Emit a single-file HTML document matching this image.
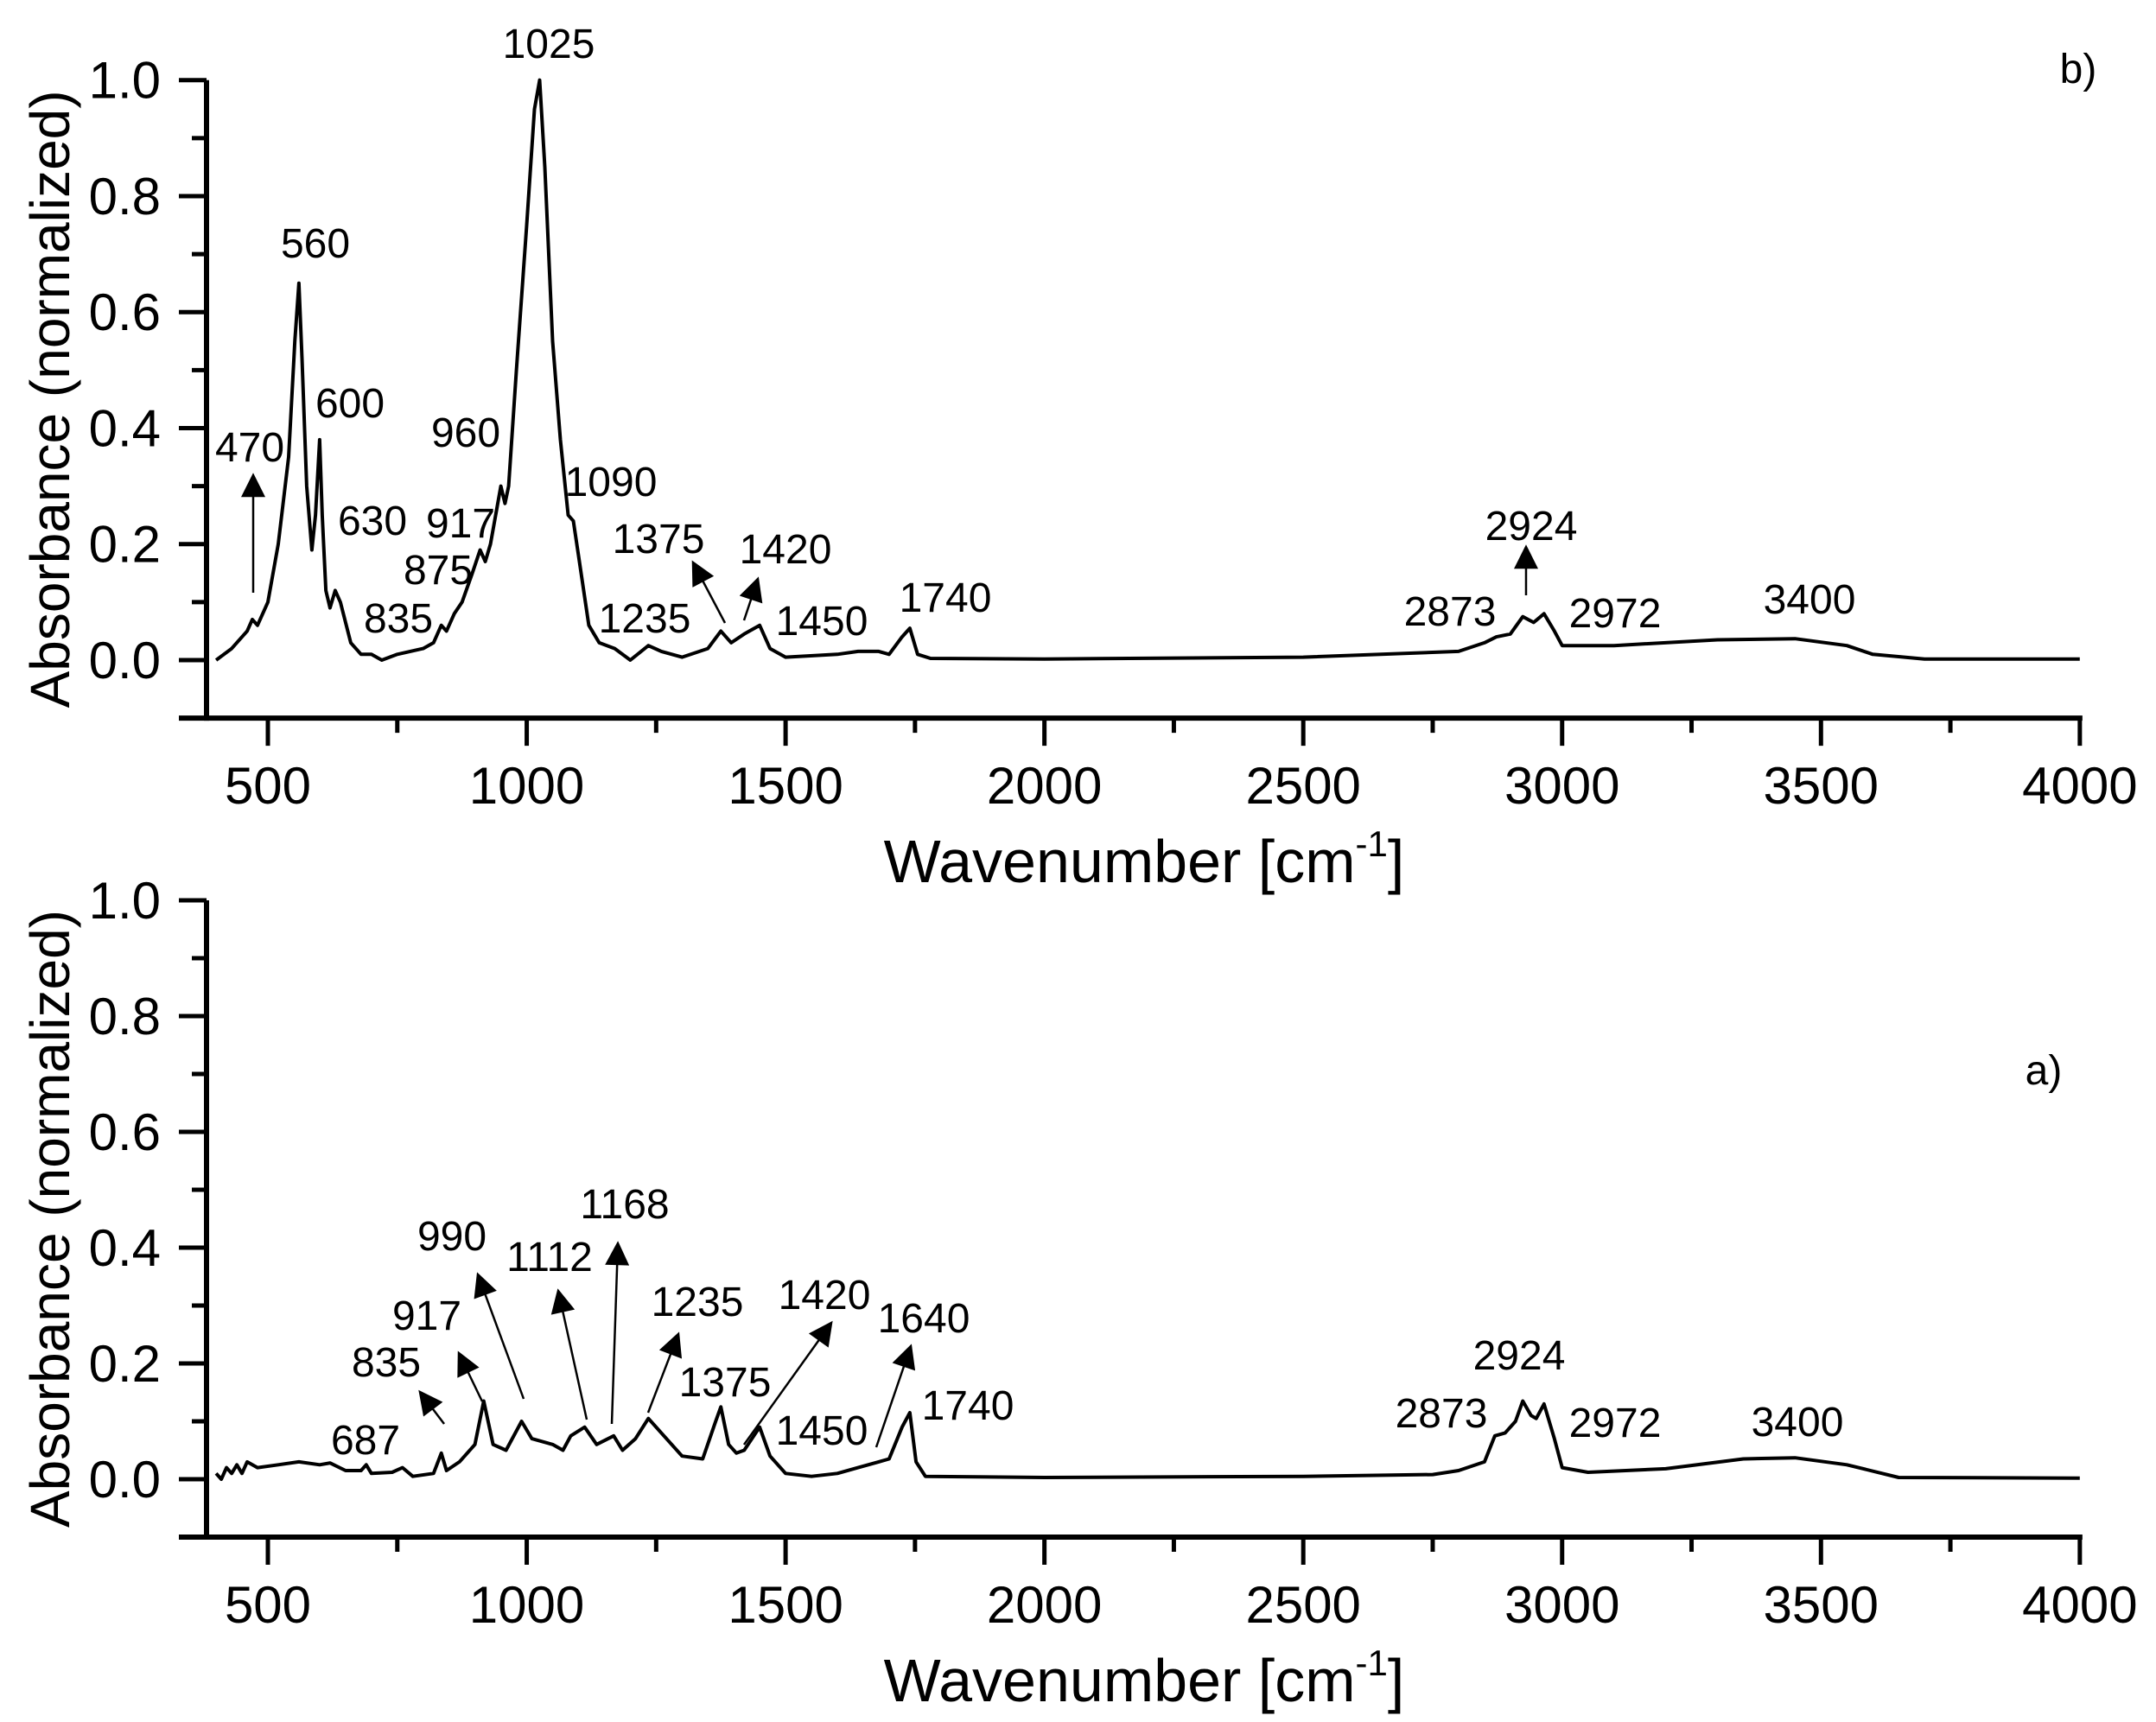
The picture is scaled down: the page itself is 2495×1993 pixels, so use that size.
<!DOCTYPE html>
<html><head><meta charset="utf-8"><style>
html,body{margin:0;padding:0;background:#fff}
svg{display:block}
text{font-family:"Liberation Sans",Arial,sans-serif;fill:#000}
</style></head><body>
<svg id="s" width="2495" height="1993" viewBox="0 0 2495 1993" xmlns="http://www.w3.org/2000/svg">
<defs>
<marker id="ah2" viewBox="0 0 10 10" refX="9" refY="5" markerWidth="38" markerHeight="28" markerUnits="userSpaceOnUse" orient="auto"><path d="M0,0 L10,5 L0,10 z" fill="#000"/></marker></defs>
<g id="axes" stroke="#000" fill="none"></g>
<path id="cb" fill="none" stroke="#000" stroke-width="4" stroke-linejoin="round"/>
<path id="ca" fill="none" stroke="#000" stroke-width="4" stroke-linejoin="round"/>
<g id="lbl" font-size="48"></g>
<g id="arr" stroke="#000" stroke-width="2.5"></g>
</svg>
<script>
var NS="http://www.w3.org/2000/svg",s=document.getElementById('s');
function X(w){return 310+(w-500)*0.5991;}
function el(t,a,p,tx){var e=document.createElementNS(NS,t);for(var k in a)e.setAttribute(k,a[k]);if(tx!==undefined)e.textContent=tx;(p||s).appendChild(e);return e;}
var ax=document.getElementById('axes');
function panel(y0,unit){
  var Y=function(a){return y0-a*unit;};
  var bot=Y(-0.1);
  el('line',{x1:239,y1:Y(1.0),x2:239,y2:bot+3,'stroke-width':6},ax);
  el('line',{x1:207,y1:bot,x2:X(4000)+3,y2:bot,'stroke-width':6},ax);
  for(var i=0;i<=10;i++){var a=i/10,maj=(i%2==0);
    el('line',{x1:maj?207:222,y1:Y(a),x2:239,y2:Y(a),'stroke-width':5},ax);
    if(maj) el('text',{x:186,y:Y(a)+21,'text-anchor':'end','font-size':60,stroke:'none'},ax,a.toFixed(1));}
  el('line',{x1:222,y1:Y(-0.1),x2:239,y2:Y(-0.1),'stroke-width':5},ax);
  for(var w=500;w<=4000;w+=250){var maj=(w%500==0);
    el('line',{x1:X(w),y1:bot,x2:X(w),y2:bot+(maj?32:17),'stroke-width':5},ax);
    if(maj) el('text',{x:X(w),y:bot+99,'text-anchor':'middle','font-size':60,stroke:'none'},ax,String(w));}
  var t=el('text',{x:1324,y:bot+190,'text-anchor':'middle','font-size':70,stroke:'none'},ax,'Wavenumber [cm');
  el('tspan',{dy:-30,'font-size':42},t,'-1');
  el('tspan',{dy:30,'font-size':70},t,']');
  el('text',{transform:'translate(80,'+(y0-0.45*unit)+') rotate(-90)','text-anchor':'middle','font-size':64,stroke:'none'},ax,'Absorbance (normalized)');
  return Y;
}
var Yb=panel(764,671.3), Ya=panel(1712,670);
var B=[400,0,430,0.02,460,0.05,470,0.07,480,0.06,500,0.1,520,0.2,540,0.35,552,0.55,560,0.65,566,0.52,575,0.3,585,0.19,592,0.25,600,0.38,605,0.25,612,0.12,620,0.09,630,0.12,640,0.1,660,0.03,680,0.01,700,0.01,720,0.0,750,0.01,800,0.02,820,0.03,835,0.06,845,0.05,860,0.08,875,0.1,895,0.15,910,0.19,920,0.17,930,0.2,950,0.3,958,0.27,965,0.3,980,0.5,1000,0.75,1015,0.95,1025,1.0,1035,0.85,1050,0.55,1065,0.38,1080,0.25,1090,0.24,1100,0.18,1120,0.06,1140,0.03,1170,0.02,1200,0.0,1235,0.025,1260,0.015,1300,0.005,1350,0.02,1375,0.05,1395,0.03,1420,0.045,1450,0.06,1470,0.02,1500,0.005,1600,0.01,1640,0.015,1680,0.015,1700,0.01,1725,0.04,1740,0.055,1755,0.01,1780,0.003,2000,0.002,2500,0.005,2800,0.015,2850,0.03,2873,0.04,2900,0.045,2924,0.075,2945,0.065,2965,0.08,2985,0.05,3000,0.025,3100,0.025,3300,0.035,3450,0.037,3550,0.025,3600,0.01,3700,0.002,4000,0.002];
var A=[400,0.01,410,0.0,420,0.02,430,0.01,440,0.025,450,0.01,460,0.03,480,0.02,520,0.025,560,0.03,600,0.025,620,0.028,650,0.015,680,0.015,690,0.025,700,0.01,740,0.012,760,0.02,780,0.005,820,0.01,835,0.045,845,0.015,870,0.03,900,0.06,917,0.135,935,0.06,960,0.05,990,0.1,1010,0.07,1050,0.06,1070,0.05,1085,0.075,1112,0.09,1135,0.06,1168,0.075,1185,0.05,1210,0.07,1235,0.105,1260,0.08,1300,0.04,1340,0.035,1365,0.1,1375,0.125,1390,0.06,1405,0.045,1420,0.05,1450,0.09,1470,0.04,1500,0.01,1550,0.005,1600,0.01,1640,0.02,1680,0.03,1700,0.035,1725,0.09,1740,0.115,1752,0.03,1770,0.005,2000,0.003,2500,0.005,2750,0.008,2800,0.015,2850,0.03,2870,0.075,2890,0.08,2910,0.1,2924,0.135,2940,0.11,2950,0.105,2965,0.13,2985,0.07,3000,0.02,3050,0.012,3200,0.018,3350,0.035,3450,0.037,3550,0.025,3650,0.003,4000,0.002];
function path(P,Y){var d='';for(var i=0;i<P.length;i+=2)d+=(i?'L':'M')+X(P[i]).toFixed(1)+','+Y(P[i+1]).toFixed(1);return d;}
document.getElementById('cb').setAttribute('d',path(B,Yb));
document.getElementById('ca').setAttribute('d',path(A,Ya));
var lg=document.getElementById('lbl');
var L=[["1025",635,67],["560",365,298],["600",405,483],["470",289,534],["630",431,619],["960",539,517],["917",533,622],["875",507,676],["835",461,732],["1090",707,574],["1375",762,640],["1420",909,652],["1235",746,732],["1450",951,735],["1740",1094,708],["2924",1772,625],["2873",1678,724],["2972",1869,726],["3400",2094,710],["b)",2405,96],
["687",423,1683],["835",447,1593],["917",494,1539],["990",523,1447],["1112",636,1471],["1168",723,1410],["1235",807,1523],["1375",839,1616],["1420",954,1515],["1640",1069,1542],["1450",951,1672],["1740",1120,1643],["2873",1668,1652],["2924",1758,1585],["2972",1869,1663],["3400",2080,1662],["a)",2365,1255]];
L.forEach(function(l){el('text',{x:l[1],y:l[2],'text-anchor':'middle'},lg,l[0]);});
var ar=document.getElementById('arr');
var R=[[293,686,293,550],[839,721,802,651],[861,718,877,670],[1766,689,1766,633],
[514,1648,486,1611],[558,1622,531,1566],[606,1619,553,1475],[679,1643,646,1494],[708,1648,715,1439],[750,1635,785,1544],[861,1672,962,1531],[1014,1675,1054,1558]];
R.forEach(function(r){el('line',{x1:r[0],y1:r[1],x2:r[2],y2:r[3],'marker-end':'url(#ah2)'},ar);});
</script>
</body></html>
